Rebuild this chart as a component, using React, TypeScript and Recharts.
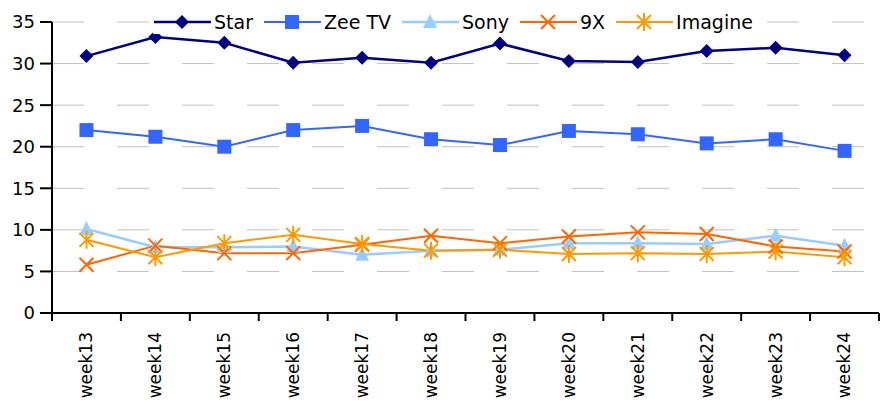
import { LineChart, Line, XAxis, YAxis, CartesianGrid } from "recharts";

const weeks = ["week13", "week14", "week15", "week16", "week17", "week18", "week19", "week20", "week21", "week22", "week23", "week24"];
const star = [30.9, 33.2, 32.5, 30.1, 30.7, 30.1, 32.4, 30.3, 30.2, 31.5, 31.9, 31.0];
const zee = [22.0, 21.2, 20.0, 22.0, 22.5, 20.9, 20.2, 21.9, 21.5, 20.4, 20.9, 19.5];
const sony = [10.1, 7.9, 7.9, 8.0, 7.0, 7.5, 7.6, 8.4, 8.4, 8.3, 9.3, 8.1];
const ninex = [5.8, 8.1, 7.2, 7.2, 8.2, 9.3, 8.4, 9.2, 9.7, 9.5, 8.0, 7.4];
const imagine = [8.8, 6.7, 8.4, 9.4, 8.3, 7.5, 7.6, 7.1, 7.2, 7.1, 7.4, 6.7];
const yTicks = [0, 5, 10, 15, 20, 25, 30, 35];
// category boundaries, for the tick marks between weeks
const bounds = [0, 1, 2, 3, 4, 5, 6, 7, 8, 9, 10, 11, 12];

const data = weeks.map((week, i) => ({
  week,
  pos: i + 0.5,
  star: star[i],
  zee: zee[i],
  sony: sony[i],
  ninex: ninex[i],
  imagine: imagine[i],
}));

const FONT = "DejaVu Sans";

type Kind = "diamond" | "square" | "triangle" | "x" | "asterisk";

function marker(kind: Kind, cx: number, cy: number, color: string) {
  const r = 7;
  switch (kind) {
    case "diamond":
      return <path d={`M${cx},${cy - r} L${cx + r},${cy} L${cx},${cy + r} L${cx - r},${cy} Z`} fill={color} />;
    case "square":
      return <rect x={cx - r} y={cy - r} width={2 * r} height={2 * r} fill={color} />;
    case "triangle":
      return <path d={`M${cx},${cy - r - 1} L${cx + r},${cy + r - 1} L${cx - r},${cy + r - 1} Z`} fill={color} />;
    case "x":
      return (
        <path d={`M${cx - r},${cy - r} L${cx + r},${cy + r} M${cx - r},${cy + r} L${cx + r},${cy - r}`} stroke={color} strokeWidth={2} fill="none" />
      );
    default:
      return (
        <path
          d={`M${cx - r},${cy - r} L${cx + r},${cy + r} M${cx - r},${cy + r} L${cx + r},${cy - r} M${cx},${cy - r - 2} L${cx},${cy + r + 2}`}
          stroke={color}
          strokeWidth={2}
          fill="none"
        />
      );
  }
}

const series: { key: string; name: string; color: string; kind: Kind; width: number }[] = [
  { key: "star", name: "Star", color: "#000080", kind: "diamond", width: 2.5 },
  { key: "zee", name: "Zee TV", color: "#3366FF", kind: "square", width: 2 },
  { key: "sony", name: "Sony", color: "#99CCFF", kind: "triangle", width: 2.5 },
  { key: "ninex", name: "9X", color: "#FF6600", kind: "x", width: 2 },
  { key: "imagine", name: "Imagine", color: "#FF9900", kind: "asterisk", width: 2 },
];

const WeekTick = (props: any) => {
  const { x, y, payload } = props;
  return (
    <text
      x={x}
      y={y}
      transform={`rotate(-90, ${x}, ${y})`}
      textAnchor="end"
      dy="0.35em"
      fontFamily={FONT}
      fontSize={17}
      fill="#000"
    >
      {payload.value}
    </text>
  );
};

const LegendBox = () => (
  <div
    style={{
      position: "absolute",
      left: 153,
      top: 10,
      display: "flex",
      alignItems: "center",
      background: "#fff",
      fontFamily: FONT,
      fontSize: 19,
      color: "#000",
      height: 24,
      paddingRight: 4,
    }}
  >
    {series.map((s) => (
      <div key={s.key} style={{ display: "flex", alignItems: "center", marginRight: 10 }}>
        <svg width={58} height={20}>
          <line x1={1} y1={10} x2={58} y2={10} stroke={s.color} strokeWidth={s.width} />
          {marker(s.kind, 29, 10, s.color)}
        </svg>
        <span style={{ marginLeft: 3 }}>{s.name}</span>
      </div>
    ))}
  </div>
);

export default function App() {
  return (
    <div style={{ position: "absolute", left: 0, top: 0, width: 887, height: 404, background: "#fff" }}>
      <LineChart width={887} height={404} data={data} margin={{ top: 22, right: 8, bottom: 0, left: 0 }}>
        <CartesianGrid vertical={false} stroke="#C0C0C0" strokeDasharray="32 33" />
        <XAxis
          xAxisId="bounds"
          type="number"
          dataKey="pos"
          domain={[0, 12]}
          ticks={bounds}
          interval={0}
          height={1}
          tick={() => <g />}
          tickSize={8}
          axisLine={{ stroke: "#000", strokeWidth: 2 }}
          tickLine={{ stroke: "#000", strokeWidth: 2 }}
        />
        <XAxis
          xAxisId="weeks"
          dataKey="week"
          height={90}
          interval={0}
          padding={{ left: 34.5, right: 34.5 }}
          tick={<WeekTick />}
          tickSize={0}
          tickMargin={18}
          axisLine={false}
          tickLine={false}
        />
        <YAxis
          width={52}
          domain={[0, 35]}
          ticks={yTicks}
          interval={0}
          tickSize={12}
          tickMargin={5}
          tick={{ fontFamily: FONT, fontSize: 18, fill: "#000" }}
          axisLine={{ stroke: "#000", strokeWidth: 2 }}
          tickLine={{ stroke: "#000", strokeWidth: 2 }}
        />
        {series.map((s) => (
          <Line
            key={s.key}
            xAxisId="bounds"
            dataKey={s.key}
            name={s.name}
            stroke={s.color}
            strokeWidth={s.width}
            isAnimationActive={false}
            dot={(p: any) => <g key={`${s.key}-${p.index}`}>{marker(s.kind, p.cx, p.cy, s.color)}</g>}
            activeDot={false}
          />
        ))}
      </LineChart>
      <LegendBox />
    </div>
  );
}
